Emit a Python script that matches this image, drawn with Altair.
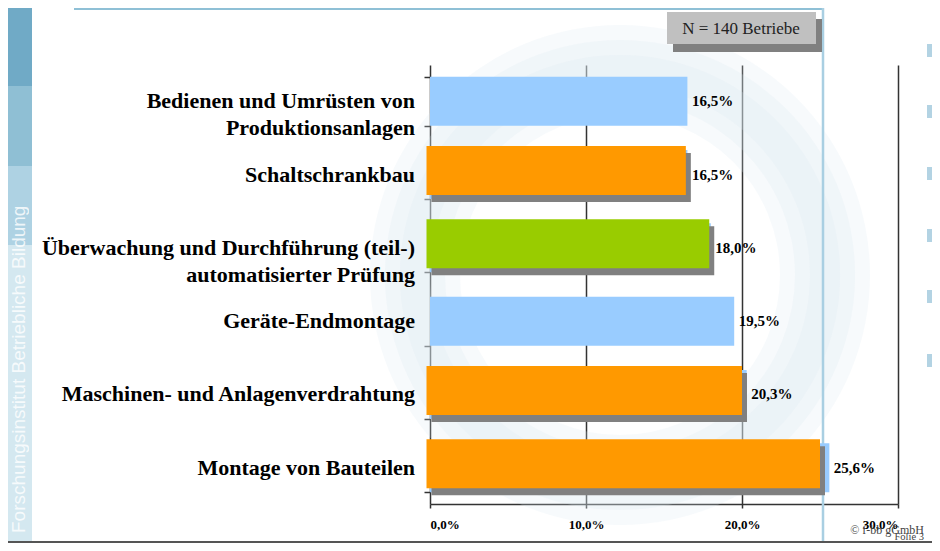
import altair as alt
import pandas as pd

# ---------------- data ----------------
categories = [
    "Bedienen und Umrüsten von\nProduktionsanlagen",
    "Schaltschrankbau",
    "Überwachung und Durchführung (teil-)\nautomatisierter Prüfung",
    "Geräte-Endmontage",
    "Maschinen- und Anlagenverdrahtung",
    "Montage von Bauteilen",
]
values = [16.5, 16.5, 18.0, 19.5, 20.3, 25.6]
highlight_values = [None, 16.4, 17.9, None, 20.0, 25.0]
highlight_groups = [None, "Orange", "Grün", None, "Orange", "Orange"]
x_ticks = [0, 10, 20, 30]
sample_note = "N = 140 Betriebe"
sidebar_text = "Forschungsinstitut Betriebliche Bildung"
footer_copy = "© f-bb gGmbH"
footer_slide = "Folie 3"

df = pd.DataFrame({
    "Kategorie": categories,
    "Anteil": values,
    "Hervorhebung": highlight_values,
    "Gruppe": highlight_groups,
})

# ---------------- layout helpers (page px -> plot px) ----------------
ORIGIN_X, ORIGIN_Y = 430, 65
def px(x):
    return x - ORIGIN_X
def py(y):
    return y - ORIGIN_Y

SERIF = "Liberation Serif"
one = alt.Data(values=[{}])

def rect(x1, x2, y1, y2, color):
    return alt.Chart(one).mark_rect(color=color).encode(
        x=alt.value(px(x1)), x2=alt.value(px(x2)),
        y=alt.value(py(y1)), y2=alt.value(py(y2)))

def label(text, x, y, **kw):
    return alt.Chart(one).mark_text(text=text, **kw).encode(
        x=alt.value(px(x)), y=alt.value(py(y)))

# ---------------- decorations ----------------
deco = []
# faint, soft background swirl (watermark), built from overlapping translucent rings
for inner, outer in [(160, 250), (175, 235), (190, 220)]:
    deco.append(alt.Chart(one).mark_arc(innerRadius=inner, outerRadius=outer, theta=0,
                                        theta2=6.2832, color="#dbe8f0", opacity=0.22).encode(
        x=alt.value(px(620)), y=alt.value(py(275))))
# left sidebar
deco.append(rect(8, 32, 8, 86, "#70aac6"))
deco.append(rect(8, 32, 86, 166, "#8fbfd4"))
deco.append(rect(8, 32, 166, 245, "#aed2e3"))
deco.append(rect(8, 32, 245, 543, "#d4e8f0"))
deco.append(label(sidebar_text, 19, 533, angle=270, align="left", baseline="middle",
                  font="Liberation Sans", fontSize=19, color="#ffffff", opacity=0.8))
# frame lines
deco.append(alt.Chart(one).mark_rule(color="#8fc0d6", strokeWidth=2).encode(
    x=alt.value(px(74)), x2=alt.value(px(824)), y=alt.value(py(9))))
deco.append(alt.Chart(one).mark_rule(color="#a9cfe2", strokeWidth=2.5).encode(
    x=alt.value(px(823)), y=alt.value(py(8)), y2=alt.value(py(543))))
deco.append(alt.Chart(one).mark_rule(color="#555555", strokeWidth=2).encode(
    x=alt.value(px(8)), x2=alt.value(px(932)), y=alt.value(py(542))))
# right bullet squares
for top in [44, 105, 167, 229, 290, 354]:
    deco.append(rect(927, 940, top, top + 13, "#b3d3e3"))
# N box
deco.append(rect(673, 822, 19, 52, "#808080"))
deco.append(rect(667, 816, 12, 44, "#c0c0c0"))
deco.append(label(sample_note, 741, 29, align="center", baseline="middle",
                  font=SERIF, fontSize=17, color="#222222"))
# footer
deco.append(label(footer_copy, 924, 530, align="right", baseline="middle",
                  font=SERIF, fontSize=12, color="#444444"))
deco.append(label(footer_slide, 924, 540, align="right", baseline="alphabetic",
                  font=SERIF, fontSize=10.5, color="#444444"))

# ---------------- main chart ----------------
x_axis = alt.Axis(
    values=x_ticks,
    labelExpr="replace(format(datum.value, '.1f'), '.', ',') + '%'",
    grid=True, gridColor="#333333", gridWidth=1.5,
    domainColor="#333333", domainWidth=1.5,
    tickColor="#333333", tickSize=4, tickWidth=1.5,
    labelFont=SERIF, labelFontWeight="bold", labelFontSize=13,
    labelColor="#000000", labelPadding=10, title=None,
)
x_scale = alt.Scale(domain=[0, 30], nice=False, zero=True)
y_enc = alt.Y(
    "Kategorie:N", sort=None,
    scale=alt.Scale(paddingInner=0.331, paddingOuter=0.16),
    axis=alt.Axis(labels=False, domain=False, ticks=True, tickBand="extent",
                  tickSize=6, tickColor="#333333", tickWidth=1.5, title=None, grid=False),
)

base = alt.Chart(df)
hl = base.transform_filter("isValid(datum.Hervorhebung)")

blue = base.mark_bar(color="#99ccff").encode(
    x=alt.X("Anteil:Q", scale=x_scale, axis=x_axis), y=y_enc)

shadow = hl.mark_bar(color="#808080", xOffset=5, x2Offset=1.5, yOffset=3, y2Offset=3).encode(
    x=alt.X("Hervorhebung:Q", scale=x_scale, axis=x_axis), x2=alt.datum(0), y=y_enc)

colored = hl.mark_bar(xOffset=0, x2Offset=-3.5, yOffset=-4, y2Offset=-4).encode(
    x=alt.X("Hervorhebung:Q", scale=x_scale, axis=x_axis), x2=alt.datum(0), y=y_enc,
    color=alt.Color("Gruppe:N", scale=alt.Scale(domain=["Orange", "Grün"],
                                               range=["#ff9900", "#99cc00"]), legend=None))

value_labels = base.transform_calculate(
    lab="replace(format(datum.Anteil, '.1f'), '.', ',') + '%'"
).mark_text(align="left", baseline="middle", dx=4.5, font=SERIF, fontWeight="bold",
            fontSize=15, color="#000000").encode(
    x=alt.X("Anteil:Q", scale=x_scale, axis=x_axis), y=y_enc, text="lab:N")

cat_labels = base.mark_text(align="right", baseline="middle", lineBreak="\n", lineHeight=27,
                            font=SERIF, fontWeight="bold", fontSize=22, color="#000000").encode(
    x=alt.value(-15), y=y_enc, text="Kategorie:N")

chart = alt.layer(*deco, blue, shadow, colored, value_labels, cat_labels).properties(
    width=468, height=439,
    padding={"left": 422, "top": 57, "right": 34, "bottom": 39},
    autosize=alt.AutoSizeParams(type="none"),
    background="#ffffff",
).configure_view(stroke=None)

chart.save("out.html", embed_options={"renderer": "svg", "actions": False})
